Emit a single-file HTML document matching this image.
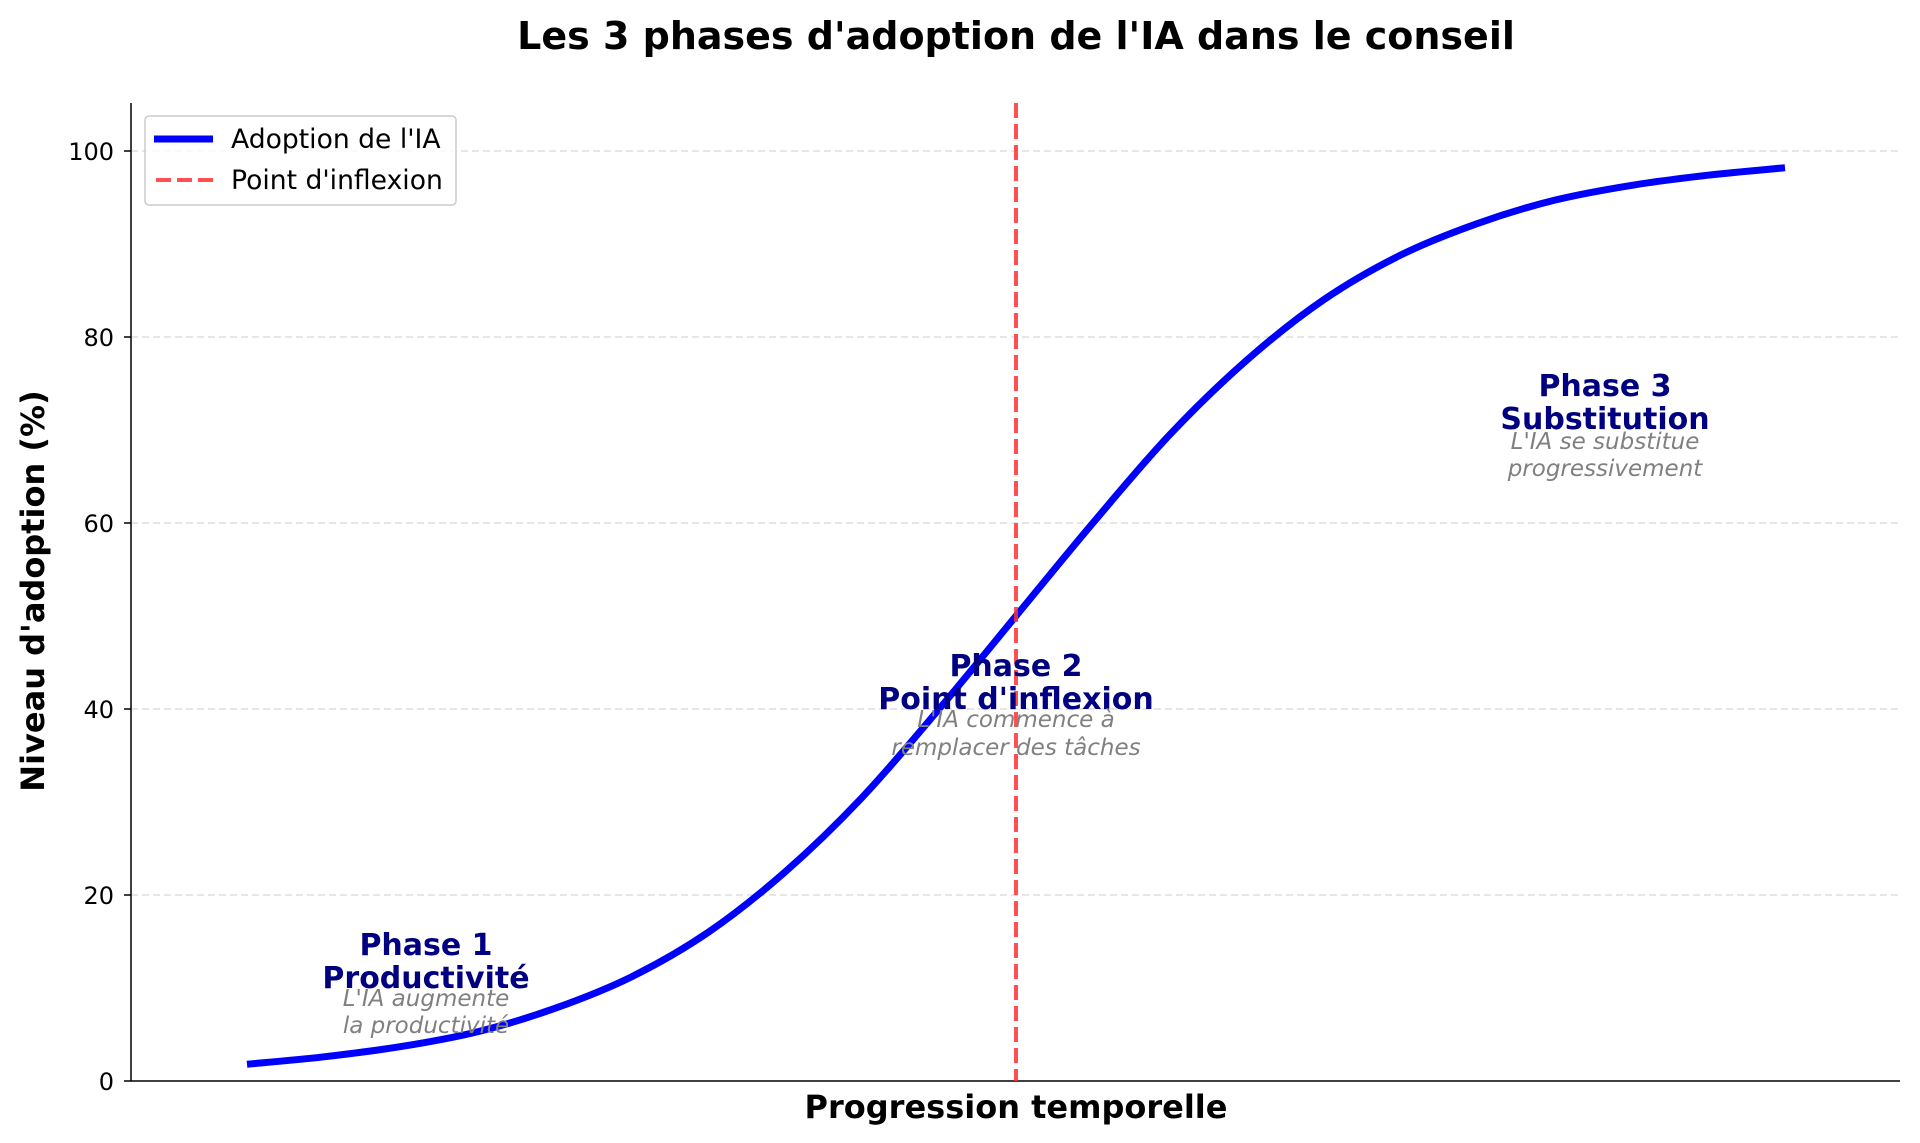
<!DOCTYPE html>
<html><head><meta charset="utf-8"><style>
html,body{margin:0;padding:0;background:#fff;}
svg{display:block;font-family:"DejaVu Sans","Liberation Sans",sans-serif;}
</style></head><body>
<svg id="chart" width="1920" height="1143" viewBox="0 0 1920 1143">
<text x="1016" y="49" text-anchor="middle" font-size="38" font-weight="bold">Les 3 phases d'adoption de l'IA dans le conseil</text>
<g id="grid"></g>
<g id="yticks"></g>
<line x1="131" y1="103" x2="131" y2="1081" stroke="#000" stroke-width="1.5"/>
<line x1="131" y1="1081" x2="1900" y2="1081" stroke="#000" stroke-width="1.5"/>
<path id="curve" fill="none" stroke="#0000ff" stroke-width="7" stroke-linecap="butt"/>
<line id="vline" stroke="#ff3333" stroke-opacity="0.85" stroke-width="4" stroke-dasharray="15,6"/>
<g font-weight="bold" font-size="30" fill="#000080" text-anchor="middle">
<text x="426" y="955">Phase 1</text>
<text x="426" y="988">Productivité</text>
<text x="1016" y="676">Phase 2</text>
<text x="1016" y="709">Point d'inflexion</text>
<text x="1605" y="396">Phase 3</text>
<text x="1605" y="429">Substitution</text>
</g>
<g font-style="italic" font-size="23" fill="#808080" text-anchor="middle">
<text x="426" y="1006">L'IA augmente</text>
<text x="426" y="1033">la productivité</text>
<text x="1016" y="727">L'IA commence à</text>
<text x="1016" y="755">remplacer des tâches</text>
<text x="1605" y="449">L'IA se substitue</text>
<text x="1605" y="476">progressivement</text>
</g>
<text x="1016" y="1118" text-anchor="middle" font-size="32" font-weight="bold">Progression temporelle</text>
<text x="0" y="0" transform="translate(44,591) rotate(-90)" text-anchor="middle" font-size="32" font-weight="bold">Niveau d'adoption (%)</text>
<g>
<rect x="145" y="116" width="311" height="89" rx="4" fill="#fff" fill-opacity="0.8" stroke="#ccc" stroke-width="1.5"/>
<line x1="154" y1="139" x2="213" y2="139" stroke="#0000ff" stroke-width="7"/>
<text x="231" y="148" font-size="26.6">Adoption de l'IA</text>
<line x1="156" y1="180" x2="213" y2="180" stroke="#ff3333" stroke-opacity="0.85" stroke-width="4" stroke-dasharray="15,6"/>
<text x="231" y="189" font-size="26.6">Point d'inflexion</text>
</g>
</svg>
<script>
const timeSteps = [0,0.5,1,1.5,2,2.5,3,3.5,4,4.5,5,5.5,6,6.5,7,7.5,8,8.5,9,9.5,10];
const adoptionValues = [1.8,2.6,3.7,5.3,7.8,11.2,16.0,22.5,30.5,40.0,50,60.0,69.5,77.5,84.0,88.8,92.2,94.7,96.3,97.4,98.2];
const inflexionX = 5;
const yTickValues = [0,20,40,60,80,100];
const yTickLabels = ["0","20","40","60","80","100"];

const NS = "http://www.w3.org/2000/svg";
const X0 = 247, X10 = 1785;
function xScale(v){ return X0 + (X10 - X0) * v / 10; }
function yScale(v){ return 1081 - 9.3 * v; }

const grid = document.getElementById('grid');
const yt = document.getElementById('yticks');
yTickValues.forEach((v,i)=>{
  const y = yScale(v);
  if (v > 0) {
    const g = document.createElementNS(NS,'line');
    g.setAttribute('x1',131); g.setAttribute('x2',1900);
    g.setAttribute('y1',y); g.setAttribute('y2',y);
    g.setAttribute('stroke','#dddddd'); g.setAttribute('stroke-width','1.5');
    g.setAttribute('stroke-dasharray','7,4');
    
    
    grid.appendChild(g);
  }
  const t = document.createElementNS(NS,'line');
  t.setAttribute('x1',124); t.setAttribute('x2',131);
  t.setAttribute('y1',y); t.setAttribute('y2',y);
  t.setAttribute('stroke','#000'); t.setAttribute('stroke-width','1.5');
  
  
  yt.appendChild(t);
  const tx = document.createElementNS(NS,'text');
  tx.setAttribute('x',114); tx.setAttribute('y',y+9);
  tx.setAttribute('text-anchor','end'); tx.setAttribute('font-size','24');
  tx.textContent = yTickLabels[i];
  
  
  yt.appendChild(tx);
});

const pts = timeSteps.map((t,i)=>[xScale(t), yScale(adoptionValues[i])]);
let d = 'M' + pts[0][0] + ',' + pts[0][1];
for (let i=0;i<pts.length-1;i++){
  const p0 = pts[Math.max(0,i-1)], p1 = pts[i], p2 = pts[i+1], p3 = pts[Math.min(pts.length-1,i+2)];
  const c1x = p1[0] + (p2[0]-p0[0])/6, c1y = p1[1] + (p2[1]-p0[1])/6;
  const c2x = p2[0] - (p3[0]-p1[0])/6, c2y = p2[1] - (p3[1]-p1[1])/6;
  d += ' C' + c1x + ',' + c1y + ' ' + c2x + ',' + c2y + ' ' + p2[0] + ',' + p2[1];
}
document.getElementById('curve').setAttribute('d', d);

const vl = document.getElementById('vline');
vl.setAttribute('x1', xScale(inflexionX)); vl.setAttribute('x2', xScale(inflexionX));
vl.setAttribute('y1', 103); vl.setAttribute('y2', 1081);
</script>
</body></html>
